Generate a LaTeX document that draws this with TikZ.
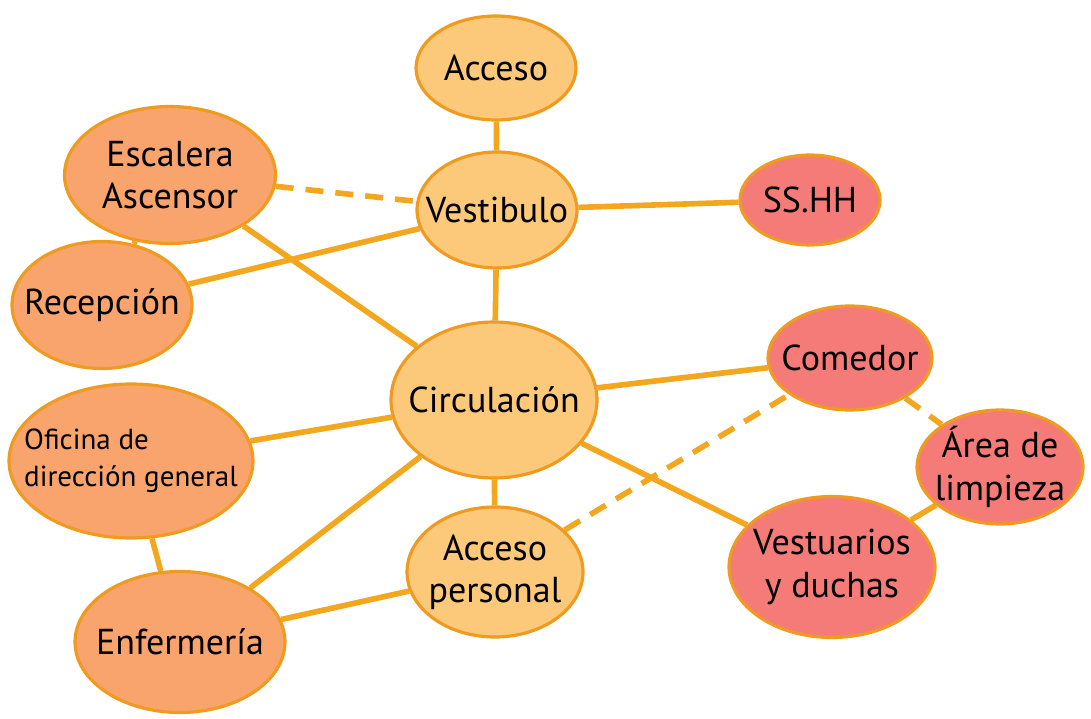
\documentclass[tikz,border=0pt]{standalone}
\usepackage{fontspec}
\setmainfont{PT Sans}
\usetikzlibrary{shapes.geometric, backgrounds}
\definecolor{linea}{HTML}{F3A71E}
\definecolor{borde}{HTML}{EE9B20}
\definecolor{claro}{HTML}{FCC87A}
\definecolor{naranja}{HTML}{F9A36D}
\definecolor{rosa}{HTML}{F47B78}

\begin{document}
\begin{tikzpicture}[x=0.02cm, y=-0.02cm,
  zona/.style={ellipse, draw=borde, line width=1.8pt, inner xsep=-3cm, inner ysep=-1cm,
    align=center, font=\fontsize{20.5}{24}\selectfont},
  publica/.style={zona, fill=claro},
  servicio/.style={zona, fill=naranja},
  privada/.style={zona, fill=rosa},
  enlace/.style={linea, line width=3.2pt},
  debil/.style={enlace, dash pattern=on 0.36cm off 0.24cm}]
\useasboundingbox (0,0) rectangle (1091,719);

% Zonas centrales
\node[publica, minimum width=160*0.02cm, minimum height=104*0.02cm] (acceso) at (496,68) {Acceso};
\node[publica, minimum width=160*0.02cm, minimum height=116*0.02cm] (vestibulo) at (497,210) {Vestibulo};
\node[publica, minimum width=206*0.02cm, minimum height=156*0.02cm] (circ) at (494,400) {Circulación};
\node[publica, minimum width=176*0.02cm, minimum height=130*0.02cm] (accper) at (495,572) {Acceso\\personal};

% Zonas laterales
\node[servicio, minimum width=211*0.02cm, minimum height=137*0.02cm] (escalera) at (170,175) {Escalera\\Ascensor};
\node[servicio, minimum width=180*0.02cm, minimum height=127*0.02cm] (recepcion) at (102,305) {Recepción};
\node[servicio, minimum width=244*0.02cm, minimum height=154*0.02cm,
  font=\fontsize{16.5}{21}\selectfont, align=left] (oficina) at (131,461) {Oficina de\\dirección general};
\node[servicio, minimum width=210*0.02cm, minimum height=141*0.02cm] (enfermeria) at (180,642) {Enfermería};

% Zonas de servicio
\node[privada, minimum width=140*0.02cm, minimum height=90*0.02cm] (sshh) at (810,200) {SS.HH};
\node[privada, minimum width=164*0.02cm, minimum height=104*0.02cm] (comedor) at (850,358) {Comedor};
\node[privada, minimum width=166*0.02cm, minimum height=114*0.02cm] (limpieza) at (1000,467) {Área de\\limpieza};
\node[privada, minimum width=206*0.02cm, minimum height=141*0.02cm] (vestuarios) at (832,567) {Vestuarios\\y duchas};

% Relaciones
\begin{scope}[on background layer]
\draw[enlace] (acceso) -- (vestibulo);
\draw[debil] (escalera) -- (vestibulo);
\draw[enlace] (escalera) -- (circ);
\draw[enlace] (escalera) -- (recepcion);
\draw[enlace] (recepcion) -- (vestibulo);
\draw[enlace] (vestibulo) -- (sshh);
\draw[enlace] (vestibulo) -- (circ);
\draw[enlace] (circ) -- (comedor);
\draw[enlace] (circ) -- (vestuarios);
\draw[enlace] (circ) -- (oficina);
\draw[enlace] (circ) -- (enfermeria);
\draw[enlace] (circ) -- (accper);
\draw[enlace] (oficina) -- (enfermeria);
\draw[enlace] (enfermeria) -- (accper);
\draw[debil] (accper) -- (comedor);
\draw[debil] (comedor) -- (limpieza);
\draw[enlace] (limpieza) -- (vestuarios);
\end{scope}
\end{tikzpicture}
\end{document}
